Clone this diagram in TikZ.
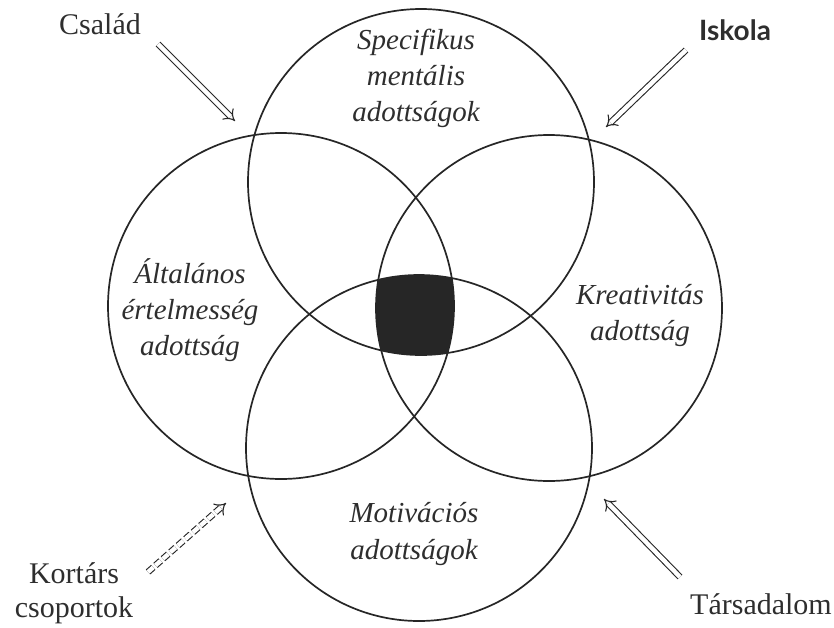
\documentclass[tikz,border=0pt]{standalone}
\usepackage{fontspec}
\setmainfont{Liberation Serif}
\newfontfamily\iskfont{Lato}
\usetikzlibrary{arrows.meta}
\begin{document}
\begin{tikzpicture}[x=1pt,y=-1pt,
  circ/.style={circle,draw=black!85,line width=1.7pt,minimum size=346pt,inner sep=0pt},
  inlab/.style={align=center,font=\fontsize{29}{36}\selectfont\itshape,text=black!82},
  outlab/.style={align=center,font=\fontsize{30}{34}\selectfont,text=black!82},
  dbl/.style={draw=black!85,double=white,double distance=4.4pt,line width=1.1pt,-{Implies[scale=1.4]}},
]
\useasboundingbox (0,0) rectangle (834,627);
% central overlap
\begin{scope}
  \clip (421,182) circle (173pt);
  \clip (281,306) circle (173pt);
  \clip (549,308) circle (173pt);
  \fill[black!85] (419,448) circle (173pt);
\end{scope}
\node[circ] (top) at (421,182) {};
\node[circ] (left) at (281,306) {};
\node[circ] (right) at (549,308) {};
\node[circ] (bottom) at (419,448) {};
% inner labels
\node[inlab] (spec) at (416,78) {Specifikus\\mentális\\adottságok};
\node[inlab] (alt) at (190,310) {Általános\\értelmesség\\adottság};
\node[inlab] (krea) at (640,316) {Kreativitás\\adottság};
\node[inlab] (moti) at (414,534) {Motivációs\\adottságok};
% outer labels
\node[outlab] (csalad) at (100,24) {Család};
\node[outlab,font=\fontsize{28}{32}\iskfont\bfseries] (iskola) at (735,30) {Iskola};
\node[outlab] (kortars) at (74,593) {Kortárs\\csoportok};
\node[outlab] (tars) at (761,604) {Társadalom};
% arrows
\coordinate (c1) at (158,44);  \coordinate (c2) at (235,121);
\coordinate (i1) at (686,50);  \coordinate (i2) at (606,127);
\coordinate (k1) at (148,572); \coordinate (k2) at (226,503);
\coordinate (t1) at (680,577); \coordinate (t2) at (604,499);
\draw[dbl] (c1) -- (c2);
\draw[dbl] (i1) -- (i2);
\draw[dbl,dash pattern=on 7pt off 3pt] (k1) -- (k2);
\draw[dbl] (t1) -- (t2);
\end{tikzpicture}
\end{document}
